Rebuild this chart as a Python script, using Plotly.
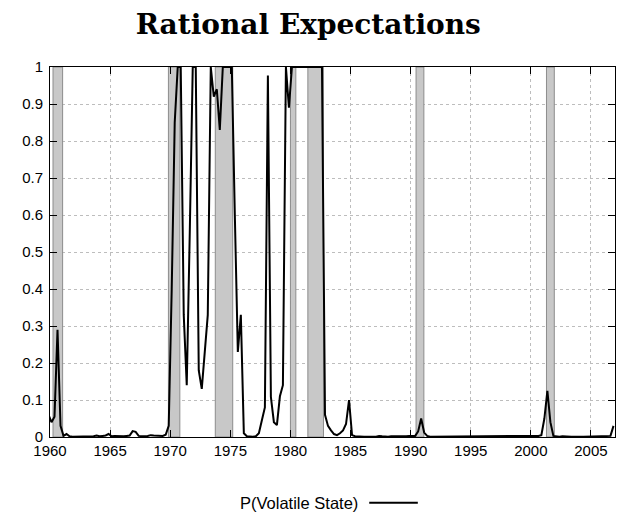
import plotly.graph_objects as go

# Quarterly probability of the volatile state (mid-quarter time stamps)
start_year = 1959.875
prob = [
    0.06,                              # 1959Q4
    0.04, 0.055, 0.29, 0.03,           # 1960
    0.003, 0.008, 0.002, 0.001,        # 1961
    0.001, 0.001, 0.002, 0.001,        # 1962
    0.001, 0.001, 0.002, 0.004,        # 1963
    0.002, 0.003, 0.004, 0.008,        # 1964
    0.002, 0.003, 0.002, 0.003,        # 1965
    0.002, 0.003, 0.004, 0.016,        # 1966
    0.014, 0.003, 0.002, 0.002,        # 1967
    0.003, 0.005, 0.004, 0.003,        # 1968
    0.004, 0.003, 0.006, 0.03,         # 1969
    0.40, 0.85, 1.0, 1.0,              # 1970
    0.33, 0.14, 0.55, 1.0,             # 1971
    1.0, 0.18, 0.13, 0.22,             # 1972
    0.33, 1.0, 0.92, 0.94,             # 1973
    0.83, 1.0, 1.0, 1.0,               # 1974
    1.0, 0.60, 0.23, 0.33,             # 1975
    0.01, 0.002, 0.001, 0.001,         # 1976
    0.002, 0.01, 0.045, 0.08,          # 1977
    0.977, 0.108, 0.04, 0.032,         # 1978
    0.11, 0.14, 1.0, 0.89,             # 1979
    1.0, 1.0, 1.0, 1.0,                # 1980
    1.0, 1.0, 1.0, 1.0,                # 1981
    1.0, 1.0, 1.0, 0.06,               # 1982
    0.03, 0.018, 0.008, 0.005,         # 1983
    0.01, 0.018, 0.035, 0.10,          # 1984
    0.005, 0.002, 0.001, 0.001,        # 1985
    0.001, 0.001, 0.002, 0.001,        # 1986
    0.001, 0.003, 0.002, 0.001,        # 1987
    0.001, 0.002, 0.001, 0.002,        # 1988
    0.002, 0.001, 0.002, 0.003,        # 1989
    0.002, 0.003, 0.015, 0.05,         # 1990
    0.012, 0.003, 0.001, 0.001,        # 1991
    0.001, 0.001, 0.001, 0.001,        # 1992
    0.001, 0.001, 0.001, 0.001,        # 1993
    0.001, 0.001, 0.002, 0.002,        # 1994
    0.001, 0.001, 0.001, 0.002,        # 1995
    0.001, 0.001, 0.001, 0.001,        # 1996
    0.001, 0.001, 0.001, 0.001,        # 1997
    0.001, 0.001, 0.001, 0.002,        # 1998
    0.002, 0.001, 0.002, 0.003,        # 1999
    0.002, 0.002, 0.003, 0.005,        # 2000
    0.05, 0.125, 0.04, 0.003,          # 2001
    0.001, 0.001, 0.002, 0.001,        # 2002
    0.001, 0.001, 0.001, 0.002,        # 2003
    0.001, 0.001, 0.001, 0.001,        # 2004
    0.001, 0.001, 0.001, 0.001,        # 2005
    0.001, 0.001, 0.003, 0.03,         # 2006
]
dates = [start_year + 0.25 * i for i in range(len(prob))]

# NBER recession bands (start, end) in years
rec_start = [1960.25, 1969.85, 1973.75, 1980.0, 1981.45, 1990.45, 2001.3]
rec_end = [1961.05, 1970.8, 1975.2, 1980.45, 1982.75, 1991.1, 2001.95]

x_ticks = list(range(1960, 2006, 5))
y_ticks = [round(0.1 * i, 1) for i in range(11)]

title_text = "Rational Expectations"
legend_text = "P(Volatile State)"

fig = go.Figure()

for s, e in zip(rec_start, rec_end):
    fig.add_shape(type="rect", xref="x", yref="y", x0=s, x1=e, y0=0, y1=1,
                  fillcolor="#c8c8c8", line=dict(color="#8c8c8c", width=1),
                  layer="between")

fig.add_trace(go.Scatter(x=dates, y=prob, mode="lines",
                         line=dict(color="black", width=2),
                         showlegend=False, name=legend_text))

tickfont = dict(family="Liberation Sans, Arial, sans-serif", size=15, color="black")

fig.update_xaxes(range=[1960, 2007], tickvals=x_ticks, ticks="inside", ticklen=7,
                 tickcolor="black", showline=True, linecolor="black", linewidth=1,
                 mirror="ticks", showgrid=True, gridcolor="#bdbdbd", griddash="dot",
                 gridwidth=1, zeroline=False, tickfont=tickfont, automargin=False)
fig.update_yaxes(range=[0, 1], tickvals=y_ticks, ticks="inside", ticklen=7,
                 tickcolor="black", showline=True, linecolor="black", linewidth=1,
                 mirror="ticks", showgrid=True, gridcolor="#bdbdbd", griddash="dot",
                 gridwidth=1, zeroline=False, tickfont=tickfont, ticklabelstandoff=3,
                 automargin=False)

# legend (text then line sample, as in the reference)
fig.add_annotation(text=legend_text, xref="paper", yref="paper", x=0.549, y=-0.178,
                   xanchor="right", yanchor="middle", showarrow=False,
                   font=dict(family="Liberation Sans, Arial, sans-serif", size=16.5,
                             color="black"))
fig.add_shape(type="line", xref="paper", yref="paper", x0=0.565, x1=0.651,
              y0=-0.178, y1=-0.178, line=dict(color="black", width=2))

fig.update_layout(
    width=619, height=515,
    margin=dict(l=50, r=4, t=67, b=78, autoexpand=False),
    plot_bgcolor="white", paper_bgcolor="white",
    title=dict(text="<b>" + title_text + "</b>", x=0.498, xref="container",
               xanchor="center", y=0.953, yref="container", yanchor="middle",
               font=dict(family="DejaVu Serif, serif", size=28, color="black")),
)

fig.write_html("out.html", config={"displayModeBar": False},
               post_script="document.body.style.margin='0px';document.body.style.overflow='hidden';")
